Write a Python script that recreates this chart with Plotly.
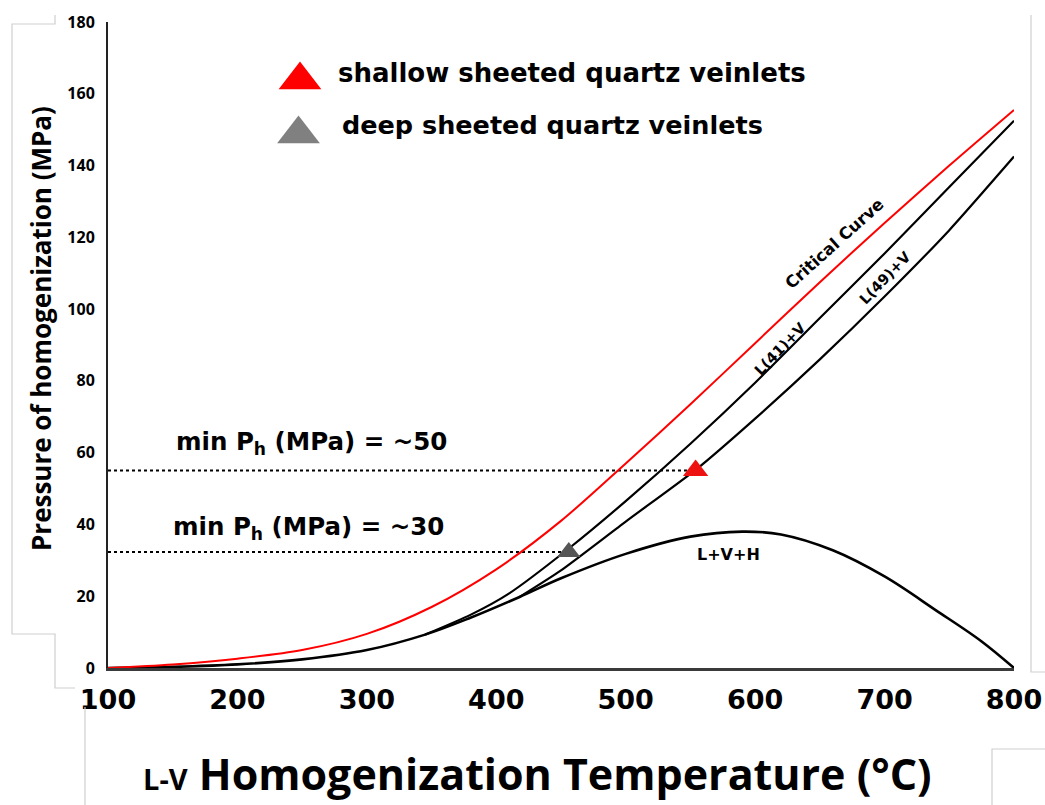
import plotly.graph_objects as go

# ---- data -------------------------------------------------------------
# Critical curve (red)
crit_T = [100, 150, 200, 250, 300, 350, 400, 450, 500, 550, 600, 650, 700, 750, 800]
crit_P = [0, 1.0, 2.6, 5.0, 9.5, 17.0, 27.5, 41, 57, 73.5, 90.5, 107.5, 124, 140, 155.5]

# Halite-saturated L+V+H curve
lvh_T = [100, 150, 200, 250, 300, 345, 380, 418, 450, 500, 550, 590, 620, 660, 700, 740, 775, 800]
lvh_P = [0, 0.3, 1.0, 2.4, 5.0, 9.3, 14.0, 19.8, 25.0, 31.8, 36.6, 38.0, 37.2, 32.8, 25.5, 16.0, 7.4, 0]

# L(41)+V isopleth (branches off the L+V+H curve)
l41_T = [345, 380, 410, 456, 500, 550, 600, 650, 700, 750, 800]
l41_P = [9.3, 14.8, 20.8, 33.3, 46.5, 62.5, 79.5, 97.5, 115.5, 134, 152.5]

# L(49)+V isopleth
l49_T = [418, 450, 500, 555, 600, 650, 700, 750, 800]
l49_P = [19.8, 27.2, 40.8, 55.5, 69.5, 86, 103.5, 122, 142.5]

# Samples: homogenization temperature and minimum pressure
shallow_T = [554]
shallow_P = [55]
deep_T = [456]
deep_P = [32.3]

x_ticks = [100, 200, 300, 400, 500, 600, 700, 800]
y_ticks = [0, 20, 40, 60, 80, 100, 120, 140, 160, 180]

# ---- page geometry (pixels) -------------------------------------------
W, H = 1045, 805
L, R, T, B = 108, 31, 22, 137
PW, PH = W - L - R, H - T - B
X0, X1, Y0, Y1 = 100, 800, 0, 180


def px(xp):
    return (xp - L) / PW


def py(yp):
    return (H - B - yp) / PH


def dx(xp):
    return X0 + (xp - L) / PW * (X1 - X0)


def dy(yp):
    return Y0 + (H - B - yp) / PH * (Y1 - Y0)


SANS = "Open Sans"
WIDE = "DejaVu Sans"

fig = go.Figure()

# dotted minimum-pressure guides
fig.add_trace(go.Scatter(x=[X0, shallow_T[0]], y=[shallow_P[0]] * 2, mode="lines",
                         line=dict(color="black", width=2, dash="dot")))
fig.add_trace(go.Scatter(x=[X0, deep_T[0]], y=[deep_P[0]] * 2, mode="lines",
                         line=dict(color="black", width=2, dash="dot")))

# phase curves
fig.add_trace(go.Scatter(x=lvh_T, y=lvh_P, mode="lines",
                         line=dict(color="black", width=2.6, shape="spline", smoothing=1.0)))
fig.add_trace(go.Scatter(x=l41_T, y=l41_P, mode="lines",
                         line=dict(color="black", width=2.2, shape="spline", smoothing=0.6)))
fig.add_trace(go.Scatter(x=l49_T, y=l49_P, mode="lines",
                         line=dict(color="black", width=2.2, shape="spline", smoothing=0.6)))
fig.add_trace(go.Scatter(x=crit_T, y=crit_P, mode="lines",
                         line=dict(color="#ff0000", width=2, shape="spline", smoothing=0.9)))

# sample points
fig.add_trace(go.Scatter(x=shallow_T, y=shallow_P, mode="markers",
                         marker=dict(symbol="triangle-up", size=22, color="#ee1111")))
fig.add_trace(go.Scatter(x=deep_T, y=deep_P, mode="markers",
                         marker=dict(symbol="triangle-up", size=20, color="#555555")))

# legend glyphs
fig.add_trace(go.Scatter(x=[dx(300)], y=[dy(80)], mode="markers", cliponaxis=False,
                         marker=dict(symbol="triangle-up", size=37, color="#ff0000")))
fig.add_trace(go.Scatter(x=[dx(298.5)], y=[dy(134)], mode="markers", cliponaxis=False,
                         marker=dict(symbol="triangle-up", size=37, color="#808080")))


def note(xp, yp, text, size, family=WIDE, angle=0, xanchor="center"):
    return dict(x=px(xp), y=py(yp), xref="paper", yref="paper", xanchor=xanchor,
                yanchor="middle", text=text, textangle=angle, showarrow=False,
                font=dict(family=family, size=size, weight="bold", color="black"))


ann = [
    note(336, 73, "shallow sheeted quartz veinlets", 26, xanchor="left"),
    note(340, 125, "deep sheeted quartz veinlets", 25.5, xanchor="left"),
    note(311, 443, "min P<sub>h</sub> (MPa) = ~50", 24.5),
    note(308, 528, "min P<sub>h</sub> (MPa) = ~30", 24.5),
    # curve labels
    note(835, 244, "Critical Curve", 16.5, angle=-42),
    note(780, 349, "L(41)+V", 14.5, angle=-46),
    note(885, 278, "L(49)+V", 14.5, angle=-46),
    note(728, 554, "L+V+H", 16),
    # axis titles
    note(537, 773, "<span style='font-size:29px'>L-V</span> Homogenization Temperature (°C)",
         43, family=SANS),
    note(41, 329, "Pressure of homogenization (MPa)", 26, family=SANS, angle=-90),
]

# light frame fragments around the figure
frame = [
    [(55, 15), (55, 24), (12, 24), (12, 634), (55, 634), (55, 688), (75, 688)],
    [(85, 707), (85, 805)],
    [(1031, 15), (1031, 672), (1045, 672)],
    [(992, 805), (992, 749), (1045, 749)],
]
shapes = []
for seg in frame:
    path = "M " + " L ".join(f"{px(a):.5f},{py(b):.5f}" for a, b in seg)
    shapes.append(dict(type="path", xref="paper", yref="paper", path=path,
                       line=dict(color="#cfcfcf", width=1.2)))

fig.update_layout(
    width=W, height=H,
    margin=dict(l=L, r=R, t=T, b=B, autoexpand=False),
    paper_bgcolor="white", plot_bgcolor="white",
    showlegend=False,
    annotations=ann, shapes=shapes,
    xaxis=dict(range=[X0, X1], tickvals=x_ticks, showgrid=False, zeroline=False,
               showline=True, linecolor="#3a3a3a", linewidth=2.5, ticks="",
               automargin=False, ticklabelstandoff=6,
               tickfont=dict(family=WIDE, size=27, weight="bold", color="black")),
    yaxis=dict(range=[Y0, Y1], tickvals=y_ticks, showgrid=False, zeroline=False,
               showline=True, linecolor="#222222", linewidth=2, ticks="",
               automargin=False, ticklabelstandoff=8,
               tickfont=dict(family=SANS, size=16, weight="bold", color="black")),
)

fig.write_html("out.html")
